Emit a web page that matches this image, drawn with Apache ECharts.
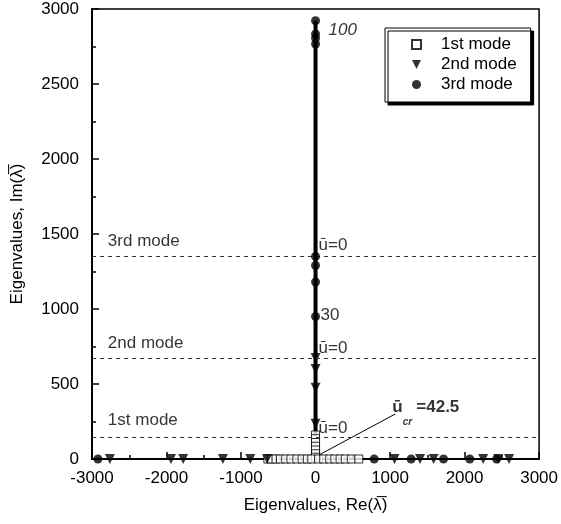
<!DOCTYPE html>
<html><head><meta charset="utf-8">
<script src="https://cdn.jsdelivr.net/npm/echarts@6/dist/echarts.min.js"></script>
<style>html,body{margin:0;padding:0;background:#fff}#c{width:561px;height:524px}</style>
</head><body><div id="c"></div>
<script>
// ---- data ----
const seriesNames = ['1st mode', '2nd mode', '3rd mode'];
// 1st mode (squares): [Re, Im]
const mode1 = [
  [0,160],[0,135],[0,110],[0,85],[0,60],[0,35],[0,12],
  [-640,0],[-590,0],[-530,0],[-470,0],[-400,0],[-330,0],[-250,0],[-180,0],[-110,0],[-50,0],
  [40,0],[110,0],[190,0],[260,0],[330,0],[400,0],[480,0],[580,0]
];
// 2nd mode (inverted triangles)
const mode2 = [
  [0,673],[0,600],[0,475],[0,235],
  [-2760,0],[-1940,0],[-1776,0],[-1244,0],[-876,0],[-650,0],
  [1060,0],[1403,0],[1585,0],[2250,0],[2450,0],[2597,0]
];
// 3rd mode (circles)
const mode3 = [
  [0,2922],[0,2833],[0,2805],[0,2767],[0,1350],[0,1290],[0,1180],[0,950],
  [-2920,0],[787,0],[1283,0],[1718,0],[2070,0],[2430,0]
];
// imaginary-axis locus
const locus = [[0,0],[0,2922]];
// u=0 reference levels (dashed)
const modeLevels = [147, 673, 1353];
const modeLevelLabels = ['1st mode', '2nd mode', '3rd mode'];
const modeLabelPos = [[-2787,260],[-2787,773],[-2787,1453]];
// annotations
const uZeroPos = [[0,207],[0,740],[0,1427]];
const speedLabels = [{pos:[0,2860], text:'100'}, {pos:[0,955], text:'30'}];
const crLeader = [[20,20],[1070,300]];
const crLabelPos = [1030,347];
const crSubPos = [1170,245];

const xMin=-3000, xMax=3000, xInt=1000;
const yMin=0, yMax=3000, yInt=500;

const FONT = '"Liberation Sans", Arial, sans-serif';
const FS = 17;
const chart = echarts.init(document.getElementById('c'), null, {renderer:'canvas'});

const annData = [];
modeLabelPos.forEach((p,i)=>annData.push({value:p, label:{formatter:modeLevelLabels[i], position:'right', distance:0}}));
uZeroPos.forEach(p=>annData.push({value:p, label:{formatter:'ū=0', position:'right', distance:3}}));
speedLabels.forEach((s,i)=>annData.push({value:s.pos, label:{formatter:s.text, position:'right', distance: i===0?13:5, fontStyle: i===0?'italic':'normal'}}));
annData.push({value:crLabelPos, label:{formatter:'{u|ū}{v|=42.5}', position:'right', distance:0,
  rich:{u:{fontSize:FS, fontWeight:'bold', width:24, fontFamily:FONT, color:'#000'}, v:{fontSize:FS, fontWeight:'bold', fontFamily:FONT, color:'#000'}}}});
annData.push({value:crSubPos, label:{formatter:'cr', position:'right', distance:0, fontSize:10, fontStyle:'italic', fontWeight:'bold'}});

const plain = v => String(v);
const option = {
  animation:false,
  backgroundColor:'#fff',
  grid:{left:92, right:18, top:9, bottom:65, show:true, borderColor:'#000', borderWidth:1.5, backgroundColor:'transparent'},
  legend:{
    orient:'vertical', left:385, top:28,
    data:[{name:seriesNames[0]},{name:seriesNames[1], icon:'path://M0,0L10,0L5,10Z'},{name:seriesNames[2]}],
    padding:[8,14,9,26], itemGap:3, itemWidth:9, itemHeight:9,
    borderColor:'#000', borderWidth:1, backgroundColor:'#fff',
    shadowColor:'#000', shadowOffsetX:3, shadowOffsetY:3, shadowBlur:0.1,
    textStyle:{fontSize:FS, fontFamily:FONT, color:'#000', padding:[0,0,0,15]}
  },
  xAxis:{
    type:'value', min:xMin, max:xMax, interval:xInt,
    name:'Eigenvalues, Re(λ̅)', nameLocation:'middle', nameGap:38,
    nameTextStyle:{fontSize:FS, fontFamily:FONT, color:'#000'},
    axisLine:{onZero:false, lineStyle:{color:'#000', width:2}},
    axisTick:{inside:true, length:7, lineStyle:{color:'#000', width:1.5}},
    minorTick:{show:true, splitNumber:2, length:4, lineStyle:{color:'#000', width:1.5}},
    splitLine:{show:false},
    axisLabel:{fontSize:FS, fontFamily:FONT, color:'#000', margin:11, formatter:plain}
  },
  yAxis:{
    type:'value', min:yMin, max:yMax, interval:yInt,
    name:'Eigenvalues, Im(λ̅)', nameLocation:'middle', nameGap:66,
    nameTextStyle:{fontSize:FS, fontFamily:FONT, color:'#000'},
    axisLine:{onZero:false, lineStyle:{color:'#000', width:2}},
    axisTick:{inside:true, length:7, lineStyle:{color:'#000', width:1.5}},
    minorTick:{show:true, splitNumber:2, length:4, lineStyle:{color:'#000', width:1.5}},
    splitLine:{show:false},
    axisLabel:{fontSize:FS, fontFamily:FONT, color:'#000', margin:13, formatter:plain}
  },
  series:[
    {type:'line', data:locus, symbol:'none', lineStyle:{color:'#000', width:4}, z:2, silent:true,
     markLine:{silent:true, symbol:'none', label:{show:false},
       lineStyle:{color:'#333', type:[4,4], width:1},
       data: modeLevels.map(v=>({yAxis:v}))}},
    {type:'line', data:crLeader, symbol:'none', lineStyle:{color:'#000', width:1}, z:2, silent:true},
    {name:seriesNames[0], type:'scatter', data:mode1, symbol:'rect', symbolSize:8,
     itemStyle:{color:'#fff', borderColor:'#000', borderWidth:1}, z:4},
    {name:seriesNames[1], type:'scatter', data:mode2, symbol:'triangle', symbolSize:10, symbolRotate:180,
     itemStyle:{color:'#000'}, z:4},
    {name:seriesNames[2], type:'scatter', data:mode3, symbol:'circle', symbolSize:9,
     itemStyle:{color:'#000'}, z:5},
    {type:'scatter', data:annData, symbolSize:0, silent:true, z:6,
     label:{show:true, fontSize:FS, fontFamily:FONT, color:'#000'}}
  ]
};
chart.setOption(option);
</script>
</body></html>
